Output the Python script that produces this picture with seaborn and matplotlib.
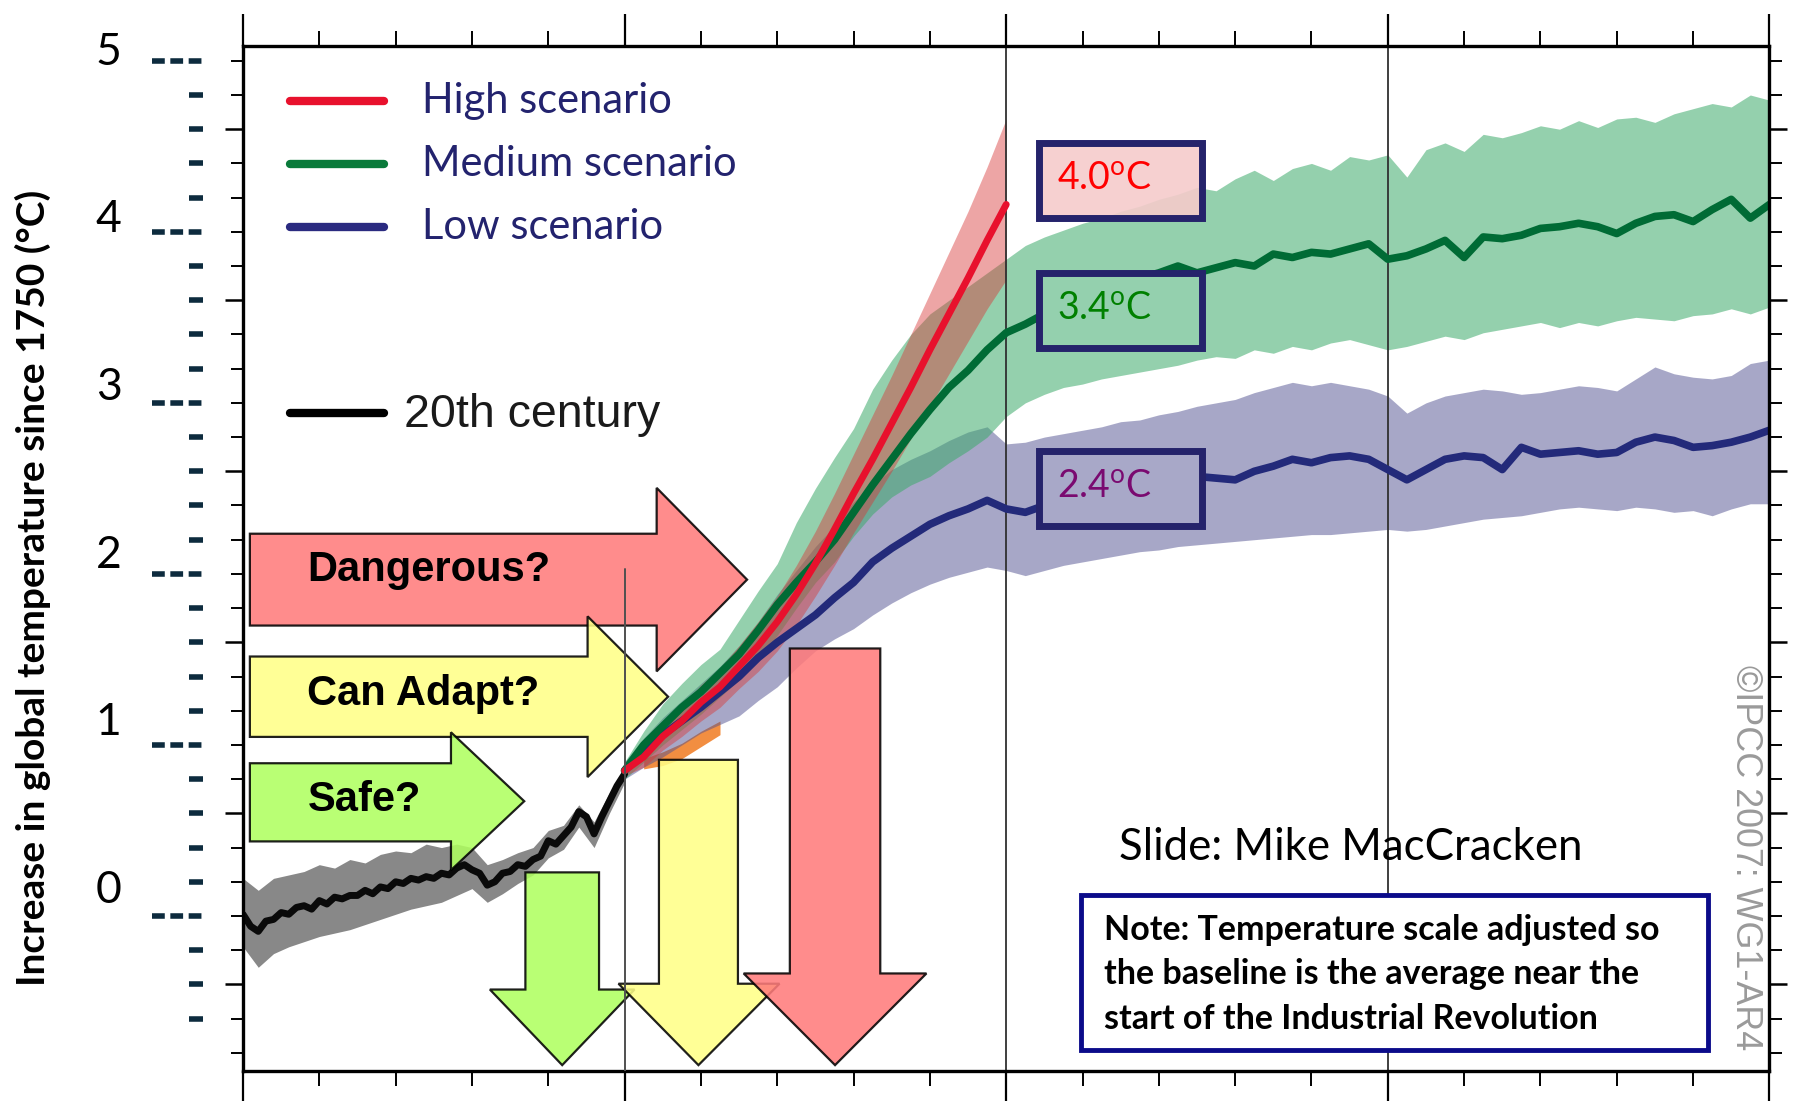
import matplotlib
matplotlib.use("Agg")
import matplotlib.pyplot as plt
import matplotlib.transforms as mtransforms
from matplotlib.patches import Polygon, Rectangle
import seaborn as sns

# 20th century observations (every 2 years) and its spread (every 4 years)
hist_years = list(range(1900, 2001, 2))
hist_temp = [0.01, -0.06, -0.09, -0.03, -0.02, 0.02, 0.01, 0.05, 0.06, 0.04, 0.09, 0.07, 0.11,
             0.10, 0.12, 0.12, 0.15, 0.13, 0.17, 0.16, 0.20, 0.19, 0.22, 0.21, 0.23, 0.22,
             0.25, 0.24, 0.28, 0.30, 0.27, 0.25, 0.18, 0.20, 0.25, 0.26, 0.30, 0.29, 0.33,
             0.35, 0.44, 0.42, 0.47, 0.52, 0.61, 0.58, 0.48, 0.58, 0.67, 0.76, 0.83]
band_years = list(range(1900, 2001, 4))
hist_hi = [0.22, 0.15, 0.22, 0.24, 0.26, 0.30, 0.28, 0.33, 0.31, 0.36, 0.38, 0.37, 0.42,
           0.40, 0.42, 0.40, 0.30, 0.33, 0.37, 0.40, 0.50, 0.53, 0.65, 0.55, 0.72, 0.87]
hist_lo = [-0.18, -0.30, -0.22, -0.18, -0.15, -0.12, -0.10, -0.08, -0.05, -0.02, 0.01, 0.04, 0.06,
           0.08, 0.12, 0.16, 0.08, 0.13, 0.19, 0.24, 0.34, 0.39, 0.52, 0.40, 0.60, 0.78]

# high scenario, 2000-2100
high_years = list(range(2000, 2101, 5))
high_temp = [0.85, 0.93, 1.05, 1.14, 1.25, 1.34, 1.46, 1.58, 1.72, 1.88, 2.06,
             2.26, 2.47, 2.67, 2.88, 3.09, 3.31, 3.52, 3.73, 3.95, 4.16]
high_hi = [0.88, 0.99, 1.12, 1.23, 1.35, 1.45, 1.58, 1.72, 1.87, 2.05, 2.25,
           2.47, 2.70, 2.93, 3.16, 3.40, 3.64, 3.88, 4.12, 4.38, 4.66]
high_lo = [0.82, 0.87, 0.97, 1.05, 1.14, 1.22, 1.33, 1.43, 1.55, 1.70, 1.87,
           2.05, 2.24, 2.42, 2.60, 2.79, 2.98, 3.17, 3.36, 3.55, 3.72]

# medium and low scenarios, 2000-2300
scen_years = list(range(2000, 2301, 5))
med_temp = [0.85, 1.00, 1.11, 1.22, 1.31, 1.42, 1.53, 1.67, 1.82, 1.95, 2.07,
            2.20, 2.36, 2.52, 2.67, 2.82, 2.96, 3.09, 3.19, 3.31, 3.41,
            3.46, 3.52, 3.58, 3.62, 3.66, 3.70, 3.73, 3.76, 3.80, 3.76,
            3.79, 3.82, 3.80, 3.87, 3.85, 3.88, 3.87, 3.90, 3.93, 3.84,
            3.86, 3.90, 3.95, 3.85, 3.97, 3.96, 3.98, 4.02, 4.03, 4.05,
            4.03, 3.99, 4.05, 4.09, 4.10, 4.06, 4.13, 4.19, 4.08, 4.16]
med_hi = [0.90, 1.08, 1.24, 1.36, 1.47, 1.56, 1.73, 1.90, 2.06, 2.30, 2.50,
          2.68, 2.85, 3.08, 3.25, 3.40, 3.52, 3.60, 3.68, 3.76, 3.84,
          3.92, 3.97, 4.01, 4.05, 4.08, 4.12, 4.15, 4.19, 4.22, 4.26,
          4.24, 4.31, 4.36, 4.30, 4.37, 4.40, 4.36, 4.44, 4.42, 4.45,
          4.32, 4.48, 4.52, 4.47, 4.57, 4.55, 4.58, 4.62, 4.60, 4.65,
          4.61, 4.66, 4.67, 4.64, 4.69, 4.72, 4.75, 4.73, 4.80, 4.77]
med_lo = [0.80, 0.90, 1.00, 1.09, 1.18, 1.28, 1.38, 1.50, 1.64, 1.80, 1.95,
          2.07, 2.22, 2.35, 2.45, 2.52, 2.57, 2.65, 2.72, 2.80, 2.92,
          3.00, 3.05, 3.09, 3.11, 3.14, 3.16, 3.18, 3.20, 3.22, 3.25,
          3.27, 3.26, 3.31, 3.29, 3.33, 3.31, 3.35, 3.37, 3.34, 3.31,
          3.33, 3.36, 3.39, 3.37, 3.41, 3.43, 3.45, 3.47, 3.44, 3.47,
          3.45, 3.48, 3.50, 3.49, 3.48, 3.51, 3.52, 3.55, 3.52, 3.56]
low_temp = [0.85, 0.96, 1.06, 1.14, 1.22, 1.31, 1.40, 1.51, 1.60, 1.68, 1.76,
            1.86, 1.95, 2.07, 2.15, 2.22, 2.29, 2.34, 2.38, 2.43, 2.38,
            2.36, 2.40, 2.43, 2.46, 2.48, 2.50, 2.52, 2.51, 2.55, 2.57,
            2.56, 2.55, 2.60, 2.63, 2.67, 2.65, 2.68, 2.69, 2.67, 2.61,
            2.55, 2.61, 2.67, 2.69, 2.68, 2.61, 2.74, 2.70, 2.71, 2.72,
            2.70, 2.71, 2.77, 2.80, 2.78, 2.74, 2.75, 2.77, 2.80, 2.84]
low_hi = [0.90, 1.04, 1.16, 1.26, 1.36, 1.46, 1.58, 1.72, 1.88, 2.02, 2.16,
          2.28, 2.42, 2.52, 2.61, 2.67, 2.72, 2.78, 2.83, 2.86, 2.76,
          2.77, 2.80, 2.82, 2.84, 2.86, 2.89, 2.90, 2.93, 2.95, 2.98,
          3.00, 3.02, 3.06, 3.09, 3.12, 3.10, 3.12, 3.10, 3.08, 3.04,
          2.94, 3.00, 3.04, 3.06, 3.08, 3.07, 3.05, 3.06, 3.08, 3.10,
          3.09, 3.07, 3.14, 3.21, 3.17, 3.15, 3.14, 3.16, 3.23, 3.25]
low_lo = [0.80, 0.87, 0.93, 1.00, 1.07, 1.12, 1.17, 1.26, 1.34, 1.45, 1.55,
          1.62, 1.68, 1.76, 1.83, 1.89, 1.94, 1.98, 2.01, 2.04, 2.02,
          1.99, 2.02, 2.05, 2.07, 2.09, 2.11, 2.13, 2.14, 2.16, 2.17,
          2.18, 2.19, 2.20, 2.21, 2.22, 2.23, 2.23, 2.24, 2.25, 2.26,
          2.25, 2.26, 2.28, 2.30, 2.32, 2.33, 2.34, 2.36, 2.38, 2.39,
          2.38, 2.37, 2.39, 2.38, 2.36, 2.37, 2.34, 2.38, 2.41, 2.41]

# constant composition commitment (mostly hidden)
const_years = [2005, 2010, 2015, 2020, 2025]
const_lo = [0.86, 0.88, 0.92, 0.99, 1.06]
const_hi = [0.92, 0.96, 1.01, 1.08, 1.14]

y_labels = [0, 1, 2, 3, 4, 5]
box_labels = ["4.0$^{\\mathregular{o}}$C", "3.4$^{\\mathregular{o}}$C", "2.4$^{\\mathregular{o}}$C"]
note_lines = ["Note: Temperature scale adjusted so",
              "the baseline is the average near the",
              "start of the Industrial Revolution"]

sns.set_theme(style="white")
plt.rcParams["font.family"] = ["Lato", "DejaVu Sans"]
plt.rcParams["axes.linewidth"] = 2.2
plt.rcParams["mathtext.fontset"] = "custom"
plt.rcParams["mathtext.rm"] = "Lato"

fig = plt.figure(figsize=(18, 11.01), dpi=100)
ax = fig.add_axes([0.135, 0.0273, 0.848, 0.931])

# bands
ax.fill_between(band_years, hist_lo, hist_hi, color="#888888", lw=0, zorder=1)
ax.fill_between(const_years, const_lo, const_hi, color="#F07A20", alpha=0.85, lw=0, zorder=1)
ax.fill_between(scen_years, low_lo, low_hi, color="#515191", alpha=0.5, lw=0, zorder=1.1)
ax.fill_between(scen_years, med_lo, med_hi, color="#3DAA6B", alpha=0.55, lw=0, zorder=1.2)
ax.fill_between(high_years, high_lo, high_hi, color="#D83838", alpha=0.45, lw=0, zorder=1.3)

# reference verticals
ax.axvline(2100, color="#303030", lw=1.3, zorder=1.8)
ax.axvline(2200, color="#303030", lw=1.3, zorder=1.8)
ax.plot([2000, 2000], [-0.906, 2.03], color="#505050", lw=1.4, zorder=6)

# central lines
sns.lineplot(x=hist_years, y=hist_temp, ax=ax, color="#0A0A0A", lw=5, zorder=2)
sns.lineplot(x=scen_years, y=low_temp, ax=ax, color="#232A7A", lw=5.5, zorder=2)
sns.lineplot(x=scen_years, y=med_temp, ax=ax, color="#006B35", lw=5.5, zorder=2.1)
sns.lineplot(x=high_years, y=high_temp, ax=ax, color="#E8112D", lw=5, zorder=2.2)

ax.set_xlim(1900, 2300)
ax.set_ylim(-0.906, 5.087)
ax.set_xticks([1900, 2000, 2100, 2200, 2300])
ax.set_xticks([x for x in range(1900, 2301, 20)], minor=True)
ax.set_yticks([-0.4, 0.6, 1.6, 2.6, 3.6, 4.6])
ax.set_yticks([round(-0.8 + 0.2 * k, 1) for k in range(30)], minor=True)
ax.tick_params(axis="x", which="both", top=True, bottom=True, direction="out",
               labelbottom=False, labeltop=False, color="black")
ax.tick_params(axis="x", which="major", length=23, width=1.6)
ax.tick_params(axis="x", which="minor", length=11, width=1.4)
ax.tick_params(axis="y", which="both", left=True, right=True, direction="out",
               labelleft=False, labelright=False, color="black")
ax.tick_params(axis="y", which="major", length=13, width=1.8)
ax.tick_params(axis="y", which="minor", length=9, width=1.4)
for s in ax.spines.values():
    s.set_color("black")
    s.set_linewidth(2.4)
ax.set_xlabel("")
ax.set_ylabel("")

# added temperature scale on the left
blend = mtransforms.blended_transform_factory(ax.transAxes, ax.transData)
for v in y_labels:
    ax.plot([-0.0594, -0.0263], [v, v], transform=blend, clip_on=False, color="#0D2B3E",
            lw=4, ls=(0, (2.3, 1.0)), solid_capstyle="butt", dash_capstyle="butt")
    ax.text(-0.088, v + 0.15 - 0.02 * v, str(v), transform=blend, ha="center", va="center",
            fontsize=32, color="black")
for k in range(-3, 25):
    v = round(0.2 * k, 1)
    if abs(v - round(v)) < 1e-6:
        continue
    ax.plot([-0.0354, -0.0263], [v, v], transform=blend, clip_on=False, color="#0D2B3E",
            lw=4, solid_capstyle="butt")

fig.text(0.018, 0.466, "Increase in global temperature since 1750 (°C)", rotation=90,
         ha="center", va="center", fontsize=28, fontweight="bold", color="black")

# legend
leg_items = [("High scenario", "#E8112D", 4.765), ("Medium scenario", "#0A7A3A", 4.396),
             ("Low scenario", "#2A2A80", 4.027)]
for name, col, yy in leg_items:
    ax.plot([1912.3, 1937.0], [yy, yy], color=col, lw=6, solid_capstyle="round", zorder=5)
    ax.text(1947.0, yy, name, ha="left", va="center", fontsize=30, color="#23236E", zorder=5)
ax.plot([1912.3, 1937.0], [2.94, 2.94], color="black", lw=6, solid_capstyle="round", zorder=5)
ax.text(1942.1, 2.93, "20th century", ha="left", va="center", fontsize=33.5, color="#1A1A1A",
        family="Liberation Sans", zorder=5)


def right_arrow(x0, xb, xt, ylo, yhi, hlo, hhi, color):
    ym = (hlo + hhi) / 2
    pts = [(x0, ylo), (xb, ylo), (xb, hlo), (xt, ym), (xb, hhi), (xb, yhi), (x0, yhi)]
    ax.add_patch(Polygon(pts, closed=True, facecolor=color, edgecolor="black", lw=1.6,
                         alpha=0.87, zorder=4))


def down_arrow(xl, xr, ytop, yb, hl, hr, ytip, color):
    xm = (xl + xr) / 2
    pts = [(xl, ytop), (xr, ytop), (xr, yb), (hr, yb), (xm, ytip), (hl, yb), (xl, yb)]
    ax.add_patch(Polygon(pts, closed=True, facecolor=color, edgecolor="black", lw=1.6,
                         alpha=0.87, zorder=4))


red_a, yel_a, grn_a = "#FF7B7B", "#FFFF87", "#AFFF5F"
right_arrow(1901.8, 2008.4, 2032.1, 1.698, 2.235, 1.430, 2.503, red_a)
right_arrow(1901.8, 1990.3, 2011.4, 1.047, 1.517, 0.812, 1.752, yel_a)
right_arrow(1901.8, 1954.5, 1973.7, 0.436, 0.893, 0.268, 1.074, grn_a)
down_arrow(1974.0, 1993.3, 0.255, -0.430, 1964.7, 2002.6, -0.872, grn_a)
down_arrow(2009.0, 2029.7, 0.913, -0.396, 1998.4, 2040.6, -0.872, yel_a)
down_arrow(2043.3, 2067.0, 1.564, -0.336, 2031.2, 2079.1, -0.872, red_a)

for txt, yy in [("Dangerous?", 2.02), ("Can Adapt?", 1.30), ("Safe?", 0.68)]:
    ax.text(1916.9, yy, txt, ha="left", va="center", fontsize=30, fontweight="bold",
            family="Liberation Sans", color="black", zorder=5)

# value boxes
box_specs = [(4.081, "#F5CBCB", 0.9, "#FF0000"), (3.322, "#94D0AE", 1.0, "#008000"),
             (2.282, "#A8A8C8", 1.0, "#7A0A70")]
for label, (y0, fc, al, tc) in zip(box_labels, box_specs):
    ax.add_patch(Rectangle((2108.7, y0), 42.7, 0.436, facecolor=fc, alpha=al, lw=0, zorder=3))
    ax.add_patch(Rectangle((2108.7, y0), 42.7, 0.436, facecolor="none", edgecolor="#25236B",
                           lw=5, zorder=3.1))
    ax.text(2113.4, y0 + 0.225, label, ha="left", va="center", fontsize=27, color=tc, zorder=5)

ax.text(2129.6, 0.403, "Slide: Mike MacCracken", ha="left", va="center", fontsize=31.5,
        color="black", zorder=5)
ax.add_patch(Rectangle((2119.7, -0.785), 164.1, 0.906, facecolor="white", edgecolor="#0B0B8A",
                       lw=3.5, zorder=4))
for line, yy in zip(note_lines, [-0.081, -0.342, -0.604]):
    ax.text(2125.7, yy, line, ha="left", va="center", fontsize=24.5, fontweight="bold",
            color="black", zorder=5)
ax.text(2293.7, 0.342, "©IPCC 2007: WG1-AR4", rotation=270, ha="center", va="center",
        fontsize=25.8, color="#9A9A9A", family="Liberation Sans", zorder=5)

fig.savefig("out.png", dpi=100)
